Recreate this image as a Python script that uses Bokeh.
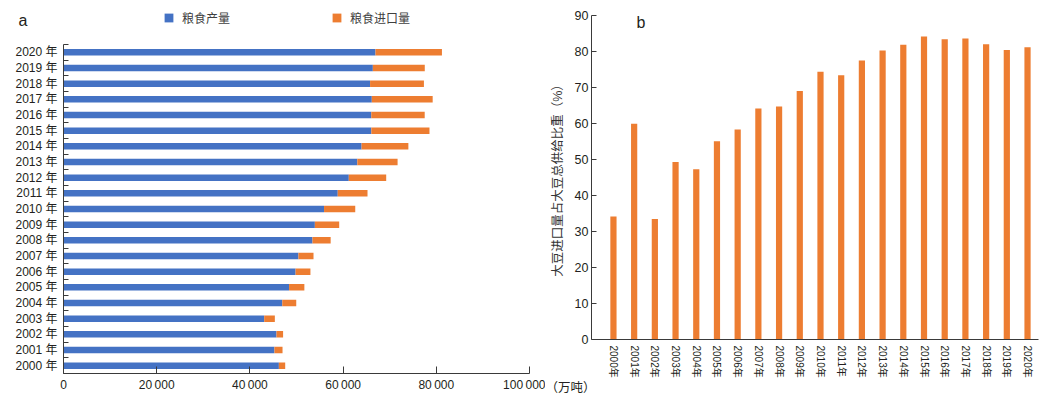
from bokeh.plotting import figure
from bokeh.layouts import row, column
from bokeh.models import (ColumnDataSource, FixedTicker, Legend, LegendItem,
                          Label, Range1d)
from bokeh.embed import file_html
from bokeh.resources import INLINE

# ---------------- data ----------------
years = list(range(2000, 2021))
year_labels_a = [f"{y} 年" for y in years]
year_labels_b = [f"{y}年" for y in years]

# 粮食产量 (万吨)
grain_output = [46218, 45264, 45706, 43070, 46947, 48402, 49804, 50414, 53434, 53941,
                55911, 58849, 61223, 63048, 63965, 66060, 66044, 66161, 65789, 66384,
                66949]
# 粮食进口量 (万吨)
grain_import = [1357, 1738, 1417, 2283, 2998, 3286, 3186, 3237, 3898, 5223,
                6695, 6390, 8025, 8645, 10042, 12477, 11468, 13062, 11555, 11144,
                14262]
# 大豆进口量占大豆总供给比重 (%)
soy_share = [34.2, 59.9, 33.5, 49.3, 47.3, 55.1, 58.3, 64.2, 64.7, 69.0,
             74.4, 73.4, 77.5, 80.3, 81.9, 84.2, 83.4, 83.6, 82.0, 80.4,
             81.2]

a_x_ticks = [0, 20000, 40000, 60000, 80000, 100000]
a_x_tick_labels = ["0", "20\u2009000", "40\u2009000", "60\u2009000", "80\u2009000", "100\u2009000"]
b_y_ticks = [0, 10, 20, 30, 40, 50, 60, 70, 80, 90]

legend_labels = ["粮食产量", "粮食进口量"]
unit_label = "（万吨）"
b_y_title = "大豆进口量占大豆总供给比重（%）"

FONT = "Liberation Sans, Noto Sans CJK SC"
BLUE = "#4472C4"
ORANGE = "#ED7D31"
TXT = "#231f20"
AX = "#3a3a3a"

idx = list(range(len(years)))
src = ColumnDataSource(dict(
    y=idx,
    out=grain_output,
    total=[o + i for o, i in zip(grain_output, grain_import)],
    x=idx,
    share=soy_share,
))


def no_align(p):
    try:
        p.frame_align = False
    except Exception:
        pass


def strip(w, h):
    """A bare figure whose frame is the whole canvas (1 data unit = 1 px)."""
    s = figure(width=w, height=h, output_backend="svg", toolbar_location=None,
               x_range=Range1d(0, w), y_range=Range1d(0, h),
               x_axis_location=None, y_axis_location=None,
               min_border=0, min_border_left=0, min_border_right=0,
               min_border_top=0, min_border_bottom=0)
    no_align(s)
    s.outline_line_color = None
    s.grid.visible = False
    return s


# ---------------- panel a ----------------
head_a = strip(545, 36)
pa = figure(width=545, height=362, output_backend="svg", toolbar_location=None,
            x_range=Range1d(0, 100000), y_range=Range1d(-0.5, 20.5),
            min_border_left=63, min_border_right=16, min_border_top=8,
            min_border_bottom=25)
no_align(pa)
pa.outline_line_color = None
pa.grid.visible = False

pa.hbar(y="y", left=0, right="out", height=0.42, source=src,
        fill_color=BLUE, line_color=None)
pa.hbar(y="y", left="out", right="total", height=0.42, source=src,
        fill_color=ORANGE, line_color=None)

xa = pa.xaxis[0]
xa.ticker = FixedTicker(ticks=a_x_ticks)
xa.major_label_overrides = {t: l for t, l in zip(a_x_ticks, a_x_tick_labels)}
xa.major_tick_in = 7
xa.major_tick_out = 0
xa.major_tick_line_color = AX
xa.minor_tick_line_color = None
xa.major_label_standoff = 4
ya = pa.yaxis[0]
ya.ticker = FixedTicker(ticks=idx, minor_ticks=[i - 0.5 for i in range(len(years) + 1)])
ya.major_label_overrides = {i: l for i, l in zip(idx, year_labels_a)}
ya.major_tick_line_color = None
ya.major_tick_in = 0
ya.major_tick_out = 0
ya.minor_tick_line_color = AX
ya.minor_tick_in = 5
ya.minor_tick_out = 0
ya.major_label_standoff = 6
for ax in (xa, ya):
    ax.axis_line_color = AX
    ax.major_label_text_font = FONT
    ax.major_label_text_font_size = "12px"
    ax.major_label_text_color = TXT

# legend of panel a, drawn in the strip above it; the swatch renderers hold
# one point far outside the strip's view, so only their legend swatch shows
sw_out = head_a.hbar(y=[-1000], left=[0], right=[1], height=1,
                     fill_color=BLUE, line_color=None)
sw_imp = head_a.hbar(y=[-1000], left=[0], right=[1], height=1,
                     fill_color=ORANGE, line_color=None)
legend = Legend(items=[LegendItem(label=legend_labels[0], renderers=[sw_out]),
                       LegendItem(label=legend_labels[1], renderers=[sw_imp])],
                orientation="horizontal", location=(163, 10), spacing=101,
                padding=0, margin=0, border_line_color=None,
                background_fill_alpha=0, glyph_width=11, glyph_height=11,
                label_standoff=8, label_height=14,
                label_text_font=FONT, label_text_font_size="12px",
                label_text_color="#404040")
head_a.add_layout(legend)
head_a.add_layout(Label(x=18, y=16, text="a", text_font=FONT,
                        text_font_size="16px", text_color=TXT,
                        text_baseline="middle", text_align="left"))

# ---------------- panel b ----------------
pb = figure(width=503, height=380, output_backend="svg", toolbar_location=None,
            x_range=Range1d(-1.06, 20.53), y_range=Range1d(0, 90),
            min_border_left=46, min_border_right=10, min_border_top=15,
            min_border_bottom=41)
no_align(pb)
pb.outline_line_color = None
pb.grid.visible = False

pb.vbar(x="x", top="share", width=0.3, bottom=0, source=src,
        fill_color=ORANGE, line_color=None)

xb = pb.xaxis[0]
xb.ticker = FixedTicker(ticks=idx)
xb.major_label_overrides = {i: l for i, l in zip(idx, year_labels_b)}
xb.major_tick_line_color = None
xb.major_tick_in = 0
xb.major_tick_out = 0
xb.minor_tick_line_color = None
xb.minor_tick_in = 0
xb.minor_tick_out = 0
xb.axis_label_standoff = 0
xb.major_label_orientation = "vertical"
xb.major_label_standoff = 6
xb.major_label_text_font_size = "10px"
yb = pb.yaxis[0]
yb.ticker = FixedTicker(ticks=b_y_ticks)
yb.major_tick_in = 5
yb.major_tick_out = 0
yb.major_tick_line_color = AX
yb.minor_tick_line_color = None
yb.major_label_standoff = 3
yb.major_label_text_font_size = "12.5px"
yb.axis_label = b_y_title
yb.axis_label_standoff = 7
yb.axis_label_text_font = FONT
yb.axis_label_text_font_size = "12.5px"
yb.axis_label_text_font_style = "normal"
yb.axis_label_text_color = "#333333"
for ax in (xb, yb):
    ax.axis_line_color = AX
    ax.major_label_text_font = FONT
    ax.major_label_text_color = TXT

pb.add_layout(Label(x=-1.06, y=90, x_offset=45, y_offset=-7, text="b",
                    text_font=FONT, text_font_size="16px", text_color=TXT,
                    text_baseline="middle", text_align="left"))

# unit of panel a's x axis: sits just right of panel a's axis end,
# in a strip under panel b
foot_b = strip(503, 18)
foot_b.add_layout(Label(x=0, y=11, text=unit_label, text_font=FONT,
                        text_font_size="12.5px", text_color=TXT,
                        text_baseline="middle", text_align="left"))

layout = row(column(head_a, pa, spacing=0), column(pb, foot_b, spacing=0), spacing=0)
open("out.html", "w").write(file_html(layout, INLINE))
